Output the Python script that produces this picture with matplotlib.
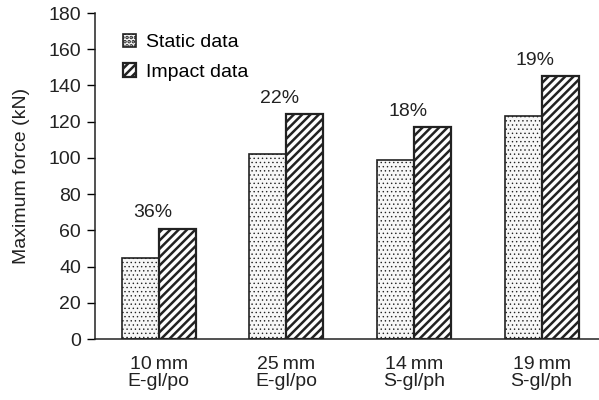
import numpy as np
import matplotlib
matplotlib.use("Agg")
import matplotlib.pyplot as plt

plt.rcParams['font.family'] = ['Liberation Sans', 'DejaVu Sans']

categories = ["10\u2009mm\nE-gl/po", "25\u2009mm\nE-gl/po", "14\u2009mm\nS-gl/ph", "19\u2009mm\nS-gl/ph"]
static_data = [45, 102, 99, 123]
impact_data = [61, 124, 117, 145]
increase = ["36%", "22%", "18%", "19%"]

x = np.arange(len(categories))
w = 0.29
fs = 14

fig = plt.figure(figsize=(5.99, 4.0), dpi=100)
ax = fig.add_axes([95 / 599, 61 / 400, 504 / 599, 326 / 400])

# static: fine light dots
plt.rcParams['hatch.linewidth'] = 0.5
plt.rcParams['hatch.color'] = '#9a9a9a'
ax.bar(x - w / 2, static_data, w, facecolor='#f7f7f7', edgecolor='#222222',
       hatch='....', linewidth=1.2, label='Static data')
# impact: heavy diagonal hatch
plt.rcParams['hatch.linewidth'] = 1.8
plt.rcParams['hatch.color'] = '#222222'
ax.bar(x + w / 2, impact_data, w, facecolor='white', edgecolor='#222222',
       hatch='////', linewidth=1.6, label='Impact data')

for i, t in enumerate(increase):
    ax.text(x[i] - 0.05, impact_data[i] + 4, t, ha='center', va='bottom', fontsize=fs, color='#222222')

ax.set_xlim(-0.5, 3.45)
ax.set_ylim(0, 180)
ax.set_yticks(np.arange(0, 181, 20))
ax.set_xticks(x)
ax.set_xticklabels(categories, fontsize=fs, color='#222222', linespacing=1.05)
ax.tick_params(axis='x', length=0, pad=12)
ax.tick_params(axis='y', labelsize=fs, labelcolor='#222222', length=6, width=1, direction='out', pad=4)
ax.set_ylabel("Maximum force (kN)", fontsize=fs, color='#222222', labelpad=13)
for s in ['top', 'right']:
    ax.spines[s].set_visible(False)
for s in ['left', 'bottom']:
    ax.spines[s].set_linewidth(1.1)
    ax.spines[s].set_color('#222222')

leg = ax.legend(loc='upper left', bbox_to_anchor=(0.02, 0.99), frameon=False, fontsize=fs,
                handlelength=0.7, handleheight=0.7, handletextpad=0.5, labelspacing=0.6)

fig.savefig("out.png", dpi=100)
